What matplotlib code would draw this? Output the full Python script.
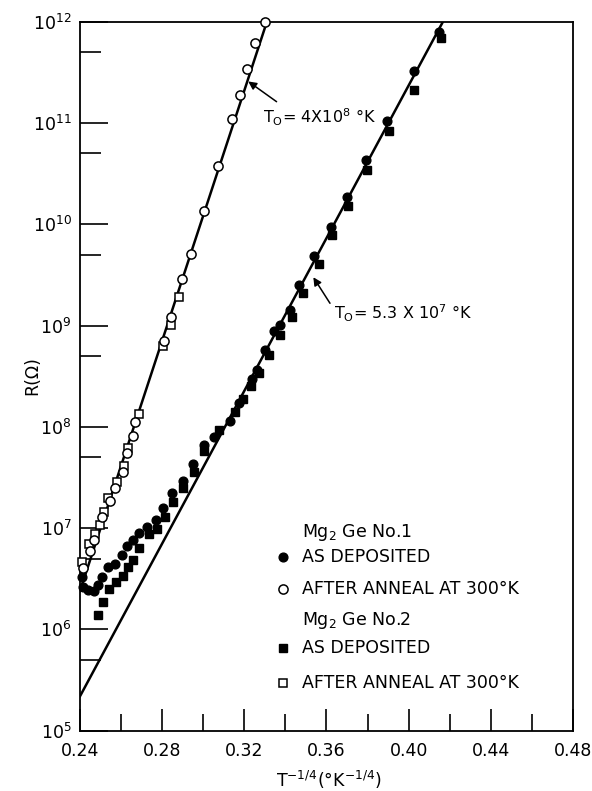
import numpy as np
import matplotlib
matplotlib.use('Agg')
import matplotlib.pyplot as plt
from matplotlib.ticker import FixedLocator, FuncFormatter

# ---------------- data (x = T^-1/4, values = log10 R) ----------------
no1_dep_x = [0.2412, 0.2415, 0.2440, 0.2470, 0.2490, 0.2509, 0.2538, 0.2571, 0.2604,
             0.2631, 0.2656, 0.2688, 0.2725, 0.2769, 0.2802, 0.2850, 0.2902, 0.2952,
             0.3002, 0.3050, 0.3129, 0.3173, 0.3238, 0.3262, 0.3303, 0.3343, 0.3376,
             0.3421, 0.3465, 0.3538, 0.3623, 0.3701, 0.3790, 0.3896, 0.4026, 0.4148]
no1_dep_logR = [6.52, 6.42, 6.39, 6.38, 6.44, 6.52, 6.62, 6.65, 6.73,
                6.82, 6.88, 6.95, 7.01, 7.08, 7.20, 7.35, 7.47, 7.63,
                7.82, 7.90, 8.06, 8.24, 8.47, 8.56, 8.76, 8.95, 9.01,
                9.15, 9.40, 9.69, 9.97, 10.27, 10.63, 11.02, 11.51, 11.90]

no1_ann_x = [0.2416, 0.2449, 0.2469, 0.2506, 0.2547, 0.2571, 0.2608, 0.2631, 0.2656,
             0.2669, 0.2808, 0.2844, 0.2896, 0.2940, 0.3004, 0.3072, 0.3140, 0.3181,
             0.3215, 0.3250, 0.3303]
no1_ann_logR = [6.61, 6.77, 6.88, 7.11, 7.27, 7.40, 7.55, 7.74, 7.91,
                8.05, 8.85, 9.08, 9.46, 9.71, 10.13, 10.58, 11.04, 11.28,
                11.53, 11.79, 12.00]

no2_dep_x = [0.2486, 0.2514, 0.2540, 0.2573, 0.2610, 0.2633, 0.2660, 0.2685, 0.2734,
             0.2774, 0.2813, 0.2853, 0.2903, 0.2953, 0.3004, 0.3078, 0.3156, 0.3194,
             0.3232, 0.3270, 0.3319, 0.3374, 0.3433, 0.3486, 0.3563, 0.3628, 0.3705,
             0.3799, 0.3904, 0.4026, 0.4156]
no2_dep_logR = [6.14, 6.27, 6.40, 6.47, 6.53, 6.62, 6.69, 6.80, 6.94,
                6.99, 7.11, 7.26, 7.40, 7.55, 7.76, 7.97, 8.15, 8.27,
                8.40, 8.53, 8.71, 8.91, 9.08, 9.32, 9.61, 9.89, 10.18,
                10.54, 10.92, 11.33, 11.84]

no2_ann_x = [0.2412, 0.2446, 0.2473, 0.2498, 0.2517, 0.2535, 0.2579, 0.2612, 0.2636,
             0.2685, 0.2802, 0.2844, 0.2883]
no2_ann_logR = [6.67, 6.84, 6.94, 7.03, 7.16, 7.30, 7.46, 7.61, 7.79,
                8.13, 8.80, 9.01, 9.28]

# fitted lines (end points, x and log10 R)
fit1_x = [0.24, 0.3310]
fit1_logR = [6.38, 12.0]
fit2_x = [0.24, 0.4167]
fit2_logR = [5.34, 12.0]

xticks_major = [0.24, 0.28, 0.32, 0.36, 0.40, 0.44, 0.48]
xtick_labels = ['0.24', '0.28', '0.32', '0.36', '0.40', '0.44', '0.48']
xticks_minor = [0.26, 0.30, 0.34, 0.38, 0.42, 0.46]
ydecades = [5, 6, 7, 8, 9, 10, 11, 12]

legend_rows = ['AS DEPOSITED', 'AFTER ANNEAL AT 300°K']

# ---------------- figure ----------------
plt.rcParams['font.family'] = ['DejaVu Sans']
fig = plt.figure(figsize=(5.92, 7.91), dpi=100)
ax = fig.add_axes([0.1351, 0.0762, 0.8328, 0.8964])
ax.set_yscale('log')
ax.set_xlim(0.24, 0.48)
ax.set_ylim(1e5, 1e12)

for s in ax.spines.values():
    s.set_linewidth(1.3)

ax.xaxis.set_major_locator(FixedLocator(xticks_major))
ax.xaxis.set_minor_locator(FixedLocator(xticks_minor))
ax.set_xticklabels(xtick_labels)
ax.yaxis.set_major_locator(FixedLocator([10.0 ** d for d in ydecades]))
ax.yaxis.set_minor_locator(FixedLocator([5 * 10.0 ** d for d in ydecades[:-1]]))
ax.yaxis.set_major_formatter(FuncFormatter(lambda v, p: r'$10^{%d}$' % round(np.log10(v))))
ax.yaxis.set_minor_formatter(FuncFormatter(lambda v, p: ''))

ax.tick_params(axis='x', which='major', direction='in', length=16, width=1.2,
               labelsize=12.5, pad=8, top=False)
ax.tick_params(axis='x', which='minor', direction='in', length=12, width=1.2, top=False)
ax.tick_params(axis='y', which='major', direction='in', length=20, width=1.2,
               labelsize=12.5, pad=6, right=False)
ax.tick_params(axis='y', which='minor', direction='in', length=15, width=1.2, right=False)

R = lambda a: 10.0 ** np.asarray(a)

ax.plot(fit1_x, R(fit1_logR), color='black', lw=1.8, zorder=2)
ax.plot(fit2_x, R(fit2_logR), color='black', lw=1.8, zorder=2)

ms_c = 6.3
ms_oc = 6.6
ms_s = 5.6
ms_os = 6.0
ax.plot(no2_dep_x, R(no2_dep_logR), 's', ms=ms_s, color='black', zorder=3, clip_on=False)
ax.plot(no1_dep_x, R(no1_dep_logR), 'o', ms=ms_c, color='black', zorder=3, clip_on=False)
ax.plot(no2_ann_x, R(no2_ann_logR), 's', ms=ms_os, mfc='white', mec='black', mew=1.1,
        zorder=4, clip_on=False)
ax.plot(no1_ann_x, R(no1_ann_logR), 'o', ms=ms_oc, mfc='white', mec='black', mew=1.1,
        zorder=4, clip_on=False)

# annotations for fit lines
ax.annotate('', xy=(0.3219, 10 ** 11.41), xytext=(0.3357, 10 ** 11.21),
            arrowprops=dict(arrowstyle='-|>', color='black', lw=1.1,
                            mutation_scale=12, shrinkA=0, shrinkB=0))
ax.text(0.3290, 10 ** 11.06, r'T$_{\mathrm{O}}$= 4X10$^{8}$ °K', fontsize=11.5,
        ha='left', va='center')
ax.annotate('', xy=(0.3536, 10 ** 9.477), xytext=(0.3617, 10 ** 9.22),
            arrowprops=dict(arrowstyle='-|>', color='black', lw=1.1,
                            mutation_scale=12, shrinkA=0, shrinkB=0))
ax.text(0.3635, 10 ** 9.12, r'T$_{\mathrm{O}}$= 5.3 X 10$^{7}$ °K', fontsize=11.5,
        ha='left', va='center')

# legend (drawn manually)
tx = 0.450
mx = 0.412
fs = 12.5
ax.text(tx, 0.279, r'Mg$_2$ Ge No.1', transform=ax.transAxes, fontsize=fs, va='center')
ax.plot([mx], [0.245], 'o', ms=ms_c, color='black', transform=ax.transAxes, clip_on=False)
ax.text(tx, 0.245, legend_rows[0], transform=ax.transAxes, fontsize=fs, va='center')
ax.plot([mx], [0.200], 'o', ms=ms_oc, mfc='white', mec='black', mew=1.1,
        transform=ax.transAxes, clip_on=False)
ax.text(tx, 0.200, legend_rows[1], transform=ax.transAxes, fontsize=fs, va='center')
ax.text(tx, 0.155, r'Mg$_2$ Ge No.2', transform=ax.transAxes, fontsize=fs, va='center')
ax.plot([mx], [0.117], 's', ms=ms_s, color='black', transform=ax.transAxes, clip_on=False)
ax.text(tx, 0.117, legend_rows[0], transform=ax.transAxes, fontsize=fs, va='center')
ax.plot([mx], [0.067], 's', ms=ms_os, mfc='white', mec='black', mew=1.1,
        transform=ax.transAxes, clip_on=False)
ax.text(tx, 0.067, legend_rows[1], transform=ax.transAxes, fontsize=fs, va='center')

fig.text(0.055, 1 - 376 / 791, 'R(Ω)', rotation=90, ha='center', va='center', fontsize=12.5)
fig.text(0.555, 0.014, r'T$^{-1/4}$(°K$^{-1/4}$)', ha='center', va='center', fontsize=12.5)

fig.savefig('out.png', dpi=100)
